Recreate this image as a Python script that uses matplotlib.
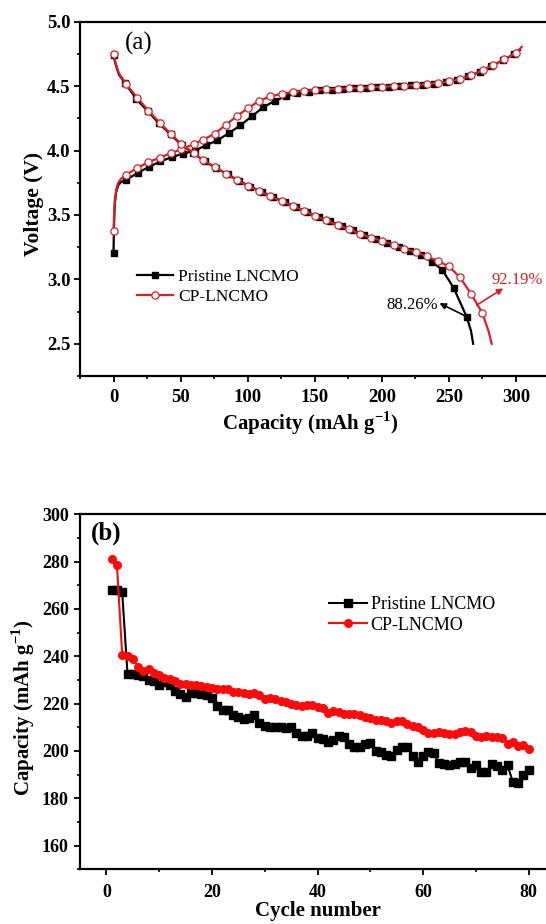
import matplotlib.pyplot as plt
from matplotlib.ticker import MultipleLocator

plt.rcParams['font.family'] = ['Liberation Serif', 'DejaVu Serif']
plt.rcParams['mathtext.fontset'] = 'custom'
plt.rcParams['mathtext.rm'] = 'Liberation Serif'
plt.rcParams['mathtext.bf'] = 'Liberation Serif:bold'

# (a) charge / discharge profiles, first cycle
cp_chg_cap = [0, 0.4, 1.0, 2.0, 3.5, 5.5, 9.1, 17.7, 26.0, 34.5, 42.9, 50.6, 59.7, 67.0, 75.3,
              83.9, 92.2, 100.5, 108.3, 117.0, 125.5, 133.8, 142.0, 150.4, 158.7, 167.0,
              175.3, 183.6, 192.0, 200.5, 208.8, 216.9, 225.2, 233.5, 241.8, 250.1, 258.4,
              266.8, 275.1, 283.0, 291.4, 299.7, 304.3]
cp_chg_v = [3.373, 3.50, 3.62, 3.70, 3.75, 3.78, 3.81, 3.865, 3.91, 3.945, 3.98, 4.01, 4.05,
            4.085, 4.13, 4.20, 4.27, 4.33, 4.385, 4.42, 4.44, 4.455, 4.464, 4.47, 4.474,
            4.479, 4.483, 4.487, 4.491, 4.495, 4.50, 4.503, 4.508, 4.516, 4.526, 4.536,
            4.552, 4.585, 4.624, 4.663, 4.707, 4.754, 4.805]
cp_dis_cap = [0, 1.5, 4.0, 9.1, 17.7, 26.0, 34.5, 42.9, 50.6, 59.7, 67.0, 75.3, 83.9, 92.2,
              100.5, 108.3, 117.0, 125.5, 133.8, 142.0, 150.4, 158.7, 167.0, 175.3, 183.6,
              192.0, 200.5, 208.8, 216.9, 225.2, 233.5, 241.8, 250.1, 258.2, 266.4, 274.9,
              279.5, 281.9]
cp_dis_v = [4.75, 4.68, 4.60, 4.52, 4.41, 4.31, 4.215, 4.127, 4.05, 3.982, 3.925, 3.873,
            3.821, 3.769, 3.725, 3.684, 3.645, 3.606, 3.570, 3.531, 3.492, 3.458, 3.420,
            3.389, 3.355, 3.324, 3.298, 3.269, 3.238, 3.212, 3.179, 3.142, 3.10, 3.016,
            2.89, 2.74, 2.60, 2.50]

pr_chg_cap = [0, 0.3, 0.9, 2.0, 3.5, 5.5, 9.5, 18.0, 26.5, 35.0, 43.5, 52.0, 60.5, 69.0,
              77.5, 86.0, 94.5, 103.0, 111.5, 120.0, 128.5, 137.0, 145.5, 154.0, 162.5,
              171.0, 179.5, 188.0, 196.5, 205.0, 213.5, 222.0, 230.5, 239.0, 247.5, 256.0,
              264.5, 273.0, 281.5, 290.0, 298.5, 303.0]
pr_chg_v = [3.207, 3.40, 3.58, 3.68, 3.73, 3.755, 3.775, 3.825, 3.875, 3.915, 3.95, 3.975,
            4.00, 4.04, 4.08, 4.135, 4.195, 4.265, 4.335, 4.385, 4.42, 4.443, 4.457, 4.466,
            4.472, 4.477, 4.482, 4.486, 4.49, 4.495, 4.50, 4.505, 4.512, 4.52, 4.532,
            4.546, 4.575, 4.612, 4.655, 4.70, 4.748, 4.78]
pr_dis_cap = [0, 1.5, 4.0, 8.5, 17.0, 25.5, 34.0, 42.5, 51.0, 59.5, 68.0, 76.5, 85.0, 93.5,
              102.0, 110.5, 119.0, 127.5, 136.0, 144.5, 153.0, 161.5, 170.0, 178.5, 187.0,
              195.5, 204.0, 212.5, 221.0, 229.5, 237.5, 245.0, 253.5, 263.2, 266.5, 268.1]
pr_dis_v = [4.74, 4.67, 4.59, 4.525, 4.40, 4.305, 4.21, 4.125, 4.04, 3.98, 3.915, 3.865,
            3.815, 3.765, 3.72, 3.678, 3.64, 3.60, 3.562, 3.522, 3.484, 3.45, 3.413, 3.38,
            3.345, 3.313, 3.285, 3.253, 3.224, 3.19, 3.135, 3.075, 2.935, 2.71, 2.60, 2.50]

# (b) cycling
cycles = list(range(1, 81))
pristine_cap = [268, 268, 267, 232.5, 232.5, 232, 231.5, 230, 229.5, 228,
                229, 228, 225.5, 224, 223, 224.5, 224.5, 224, 223.5, 222.5,
                219, 217.5, 217.5, 215, 214.5, 213.5, 214, 215, 212, 210.5,
                210, 210, 210, 209.5, 210, 207.5, 206.5, 206.5, 207.5, 205.5,
                205, 204, 204.5, 206.5, 206, 203, 201.5, 201.5, 203, 203.5,
                200, 199.5, 198.5, 198, 200.5, 201.5, 201.5, 198, 195.5, 198,
                199.5, 199, 195, 194.5, 194, 194.5, 195.5, 195.5, 193, 194,
                191, 191, 194.5, 193.5, 192, 194, 187, 186.5, 190, 192]
cp_cap = [281, 278.5, 240.5, 240, 239, 235.5, 234, 234.5, 233, 232,
          231, 230.5, 229.5, 228.5, 228.5, 228, 228, 227.5, 227, 226.5,
          226, 226, 226, 225, 225, 224.5, 224, 224.5, 223.5, 222,
          222.5, 222, 221, 220.5, 220, 219.5, 219, 219.5, 219.5, 218.5,
          218, 216, 217, 216.5, 215.5, 215.5, 215.5, 215, 214.5, 214,
          213, 213, 212.5, 212, 212.5, 212.5, 211.5, 210.5, 210, 209,
          207.5, 207.5, 208, 207.5, 207, 207, 208, 208.5, 208, 206.5,
          206, 206.5, 206, 206, 205.5, 203, 204, 202, 202.5, 201]

red_a = '#d42228'

fig = plt.figure(figsize=(5.46, 9.24), dpi=100)


def style_axes(ax, size):
    for s in ax.spines.values():
        s.set_linewidth(1.6)
    ax.tick_params(which='major', direction='out', length=4.5, width=1.3,
                   top=False, right=False)
    ax.tick_params(which='minor', direction='out', length=2.2, width=1.2,
                   top=False, right=False)
    for lab in ax.get_xticklabels() + ax.get_yticklabels():
        lab.set_fontsize(size)
        lab.set_fontweight('bold')


# ---- panel (a)
ax1 = fig.add_axes([80 / 546, 1 - 376 / 924, 469.5 / 546, 354.3 / 924])
mk_p = [0] + list(range(6, len(pr_chg_cap) - 1))
ax1.plot(pr_chg_cap, pr_chg_v, '-', color='black', lw=1.6, marker='s', ms=4.2,
         markevery=mk_p, label='Pristine LNCMO')
mk_pd = [0] + list(range(3, len(pr_dis_cap) - 2))
ax1.plot(pr_dis_cap, pr_dis_v, '-', color='black', lw=1.6, marker='s', ms=4.2,
         markevery=mk_pd)
mk_c = [0] + list(range(6, len(cp_chg_cap) - 1))
ax1.plot(cp_chg_cap, cp_chg_v, '-', color=red_a, lw=1.6, marker='o', ms=5.2,
         mfc='white', mec=red_a, mew=0.9, markevery=mk_c, label='CP-LNCMO')
mk_cd = [0] + list(range(3, len(cp_dis_cap) - 2))
ax1.plot(cp_dis_cap, cp_dis_v, '-', color=red_a, lw=1.6, marker='o', ms=5.2,
         mfc='white', mec=red_a, mew=0.9, markevery=mk_cd)

ax1.set_xlim(-25, 325)
ax1.set_ylim(2.25, 5.0)
ax1.xaxis.set_major_locator(MultipleLocator(50))
ax1.xaxis.set_minor_locator(MultipleLocator(25))
ax1.yaxis.set_major_locator(MultipleLocator(0.5))
ax1.yaxis.set_minor_locator(MultipleLocator(0.25))
ax1.yaxis.set_major_formatter(plt.FormatStrFormatter('%.1f'))
style_axes(ax1, 13.5)
ax1.tick_params(axis='x', pad=5)
ax1.tick_params(axis='y', pad=2.5)
ax1.set_xlabel(r'Capacity (mAh g$^{\mathbf{-1}}$)', fontsize=15, fontweight='bold')
ax1.set_ylabel('Voltage (V)', fontsize=15.5, fontweight='bold')
ax1.xaxis.set_label_coords(0.49, -0.095)
ax1.yaxis.set_label_coords(-0.077, 0.485)
ax1.text(125 / 546, 1 - 43 / 924, '(a)', transform=fig.transFigure, fontsize=18,
         va='center', ha='left')

ax1.annotate('', xy=(243, 2.815), xytext=(262.5, 2.715),
             arrowprops=dict(arrowstyle='-|>', color='black', lw=1.2,
                             mutation_scale=9, shrinkA=0, shrinkB=0))
ax1.text(242, 2.80, '88.26%', fontsize=12, ha='right', va='center')
ax1.annotate('', xy=(290.5, 2.93), xytext=(270.7, 2.80),
             arrowprops=dict(arrowstyle='-|>', color=red_a, lw=1.2,
                             mutation_scale=9, shrinkA=0, shrinkB=0))
ax1.text(281.8, 2.995, '92.19%', fontsize=12, ha='left', va='center', color=red_a)

ax1.legend(loc='center left', bbox_to_anchor=(137 / 546, 1 - 287 / 924),
           bbox_transform=fig.transFigure, frameon=False, fontsize=12.5,
           handlelength=2.1, handletextpad=0.25, labelspacing=0.25,
           borderpad=0, borderaxespad=0)

# ---- panel (b)
ax2 = fig.add_axes([80 / 546, 1 - 869.3 / 924, 475 / 546, 355 / 924])
ax2.plot(cycles, pristine_cap, '-', color='black', lw=1.5, marker='s', ms=5.5,
         label='Pristine LNCMO')
ax2.plot(cycles, cp_cap, '-', color='#ff0a0a', lw=1.5, marker='o', ms=5.5,
         label='CP-LNCMO')
ax2.set_xlim(-5, 85)
ax2.set_ylim(150, 300)
ax2.xaxis.set_major_locator(MultipleLocator(20))
ax2.xaxis.set_minor_locator(MultipleLocator(10))
ax2.yaxis.set_major_locator(MultipleLocator(20))
ax2.yaxis.set_minor_locator(MultipleLocator(10))
style_axes(ax2, 13)
ax2.tick_params(axis='x', pad=6)
ax2.tick_params(axis='y', pad=3.5)
ax2.set_xlabel('Cycle number', fontsize=15, fontweight='bold')
ax2.set_ylabel(r'Capacity (mAh g$^{\mathbf{-1}}$)', fontsize=15, fontweight='bold')
ax2.xaxis.set_label_coords(0.5, -0.088)
ax2.yaxis.set_label_coords(-0.09, 0.454)
ax2.text(91 / 546, 1 - 533 / 924, '(b)', transform=fig.transFigure, fontsize=18,
         fontweight='bold', va='center', ha='left')
ax2.legend(loc='center left', bbox_to_anchor=(329 / 546, 1 - 615 / 924),
           bbox_transform=fig.transFigure, frameon=False, fontsize=13,
           handlelength=2.1, handletextpad=0.2, labelspacing=0.2,
           borderpad=0, borderaxespad=0)

fig.savefig('out.png', dpi=100)
